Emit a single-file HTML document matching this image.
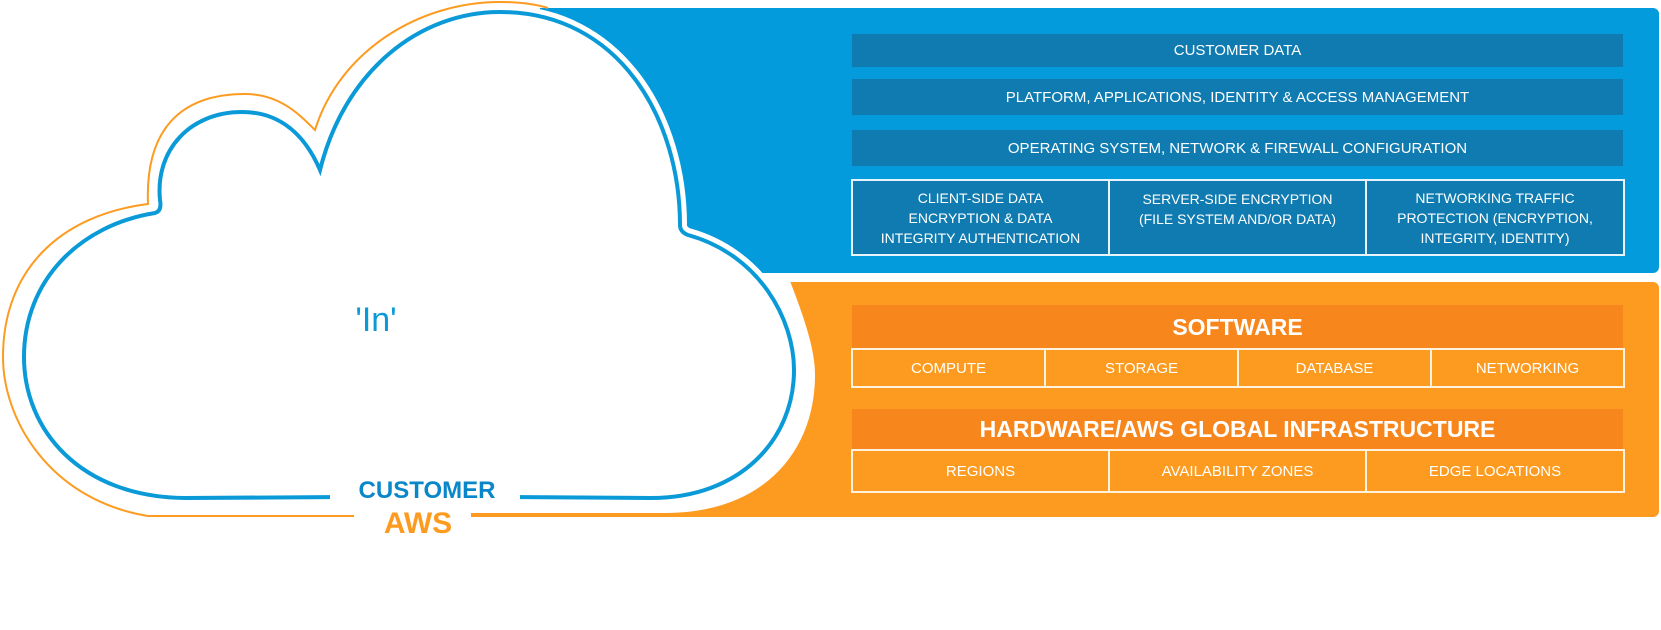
<!DOCTYPE html>
<html><head><meta charset="utf-8"><style>
body{margin:0;width:1661px;height:630px;background:#fff;overflow:hidden;position:relative;font-family:"Liberation Sans",sans-serif}
.a{position:absolute;box-sizing:border-box;color:#fff;display:flex;align-items:center;justify-content:center;text-align:center}
.row{background:#0f7bb0;font-size:15px}
.cell{border:2px solid #e8f4fb;font-size:14px;line-height:20px}
.ocell{border:2px solid #fff3e0;font-size:15px}
.obar{background:#f7861c;font-weight:bold}
</style></head><body>
<div style="position:absolute;left:540px;top:8px;width:1119px;height:265px;background:#039bdc;border-radius:0 6px 6px 0"></div>
<div style="position:absolute;left:471px;top:282px;width:1188px;height:235px;background:#fd9b20;border-radius:0 6px 6px 0"></div>
<svg width="1661" height="630" style="position:absolute;left:0;top:0">
<path d="M790 281 C805 320 815 350 815 375 C815 450 765 513 665 513 L0 513 L0 281 Z" fill="#fff"/>
<path d="M0 0 L540 0 L540 8 L0 8 Z" fill="#fff"/>
<path d="M345 497 L185 498 C80 497 24 430 24 357 C24 280 80 225 155 213 Q162 211 160 200 C155 150 190 112 242 112 C280 112 305 135 320 170 C345 70 420 12 500 12 C620 12 680 120 680 225 Q680 232 688 235 C760 255 794 320 794 370 C794 440 740 498 651 498 L505 497 Z" fill="#fff" stroke="#fff" stroke-width="14"/>
<path d="M345 497 L185 498 C80 497 24 430 24 357 C24 280 80 225 155 213 Q162 211 160 200 C155 150 190 112 242 112 C280 112 305 135 320 170 C345 70 420 12 500 12 C620 12 680 120 680 225 Q680 232 688 235 C760 255 794 320 794 370 C794 440 740 498 651 498 L505 497" fill="none" stroke="#0a9ad8" stroke-width="4"/>
<rect x="330" y="485" width="190" height="20" fill="#fff"/>
<path d="M354 516 L148 516 C50 500 3 420 3 357 C3 270 60 215 148 204 C145 130 180 94 245 94 C280 94 300 115 315 130 C340 50 420 2 500 2 C520 2 535 4 548 8" fill="none" stroke="#fd9b20" stroke-width="2"/>
<text x="376" y="331" font-size="34" fill="#0a9ad8" text-anchor="middle" font-family="Liberation Sans">'In'</text>
<text x="427" y="498" font-size="24" fill="#0a87c8" text-anchor="middle" font-weight="bold" font-family="Liberation Sans">CUSTOMER</text>
<text x="418" y="533" font-size="30" fill="#fd9b20" text-anchor="middle" font-weight="bold" font-family="Liberation Sans">AWS</text>
</svg>
<div class="a row" style="left:852px;top:34px;width:771px;height:33px">CUSTOMER DATA</div>
<div class="a row" style="left:852px;top:79px;width:771px;height:36px">PLATFORM, APPLICATIONS, IDENTITY &amp; ACCESS MANAGEMENT</div>
<div class="a row" style="left:852px;top:130px;width:771px;height:36px">OPERATING SYSTEM, NETWORK &amp; FIREWALL CONFIGURATION</div>
<div class="a row cell" style="left:851px;top:179px;width:259px;height:77px">CLIENT-SIDE DATA<br>ENCRYPTION &amp; DATA<br>INTEGRITY AUTHENTICATION</div>
<div class="a row cell" style="left:1108px;top:179px;width:259px;height:77px;align-items:flex-start;padding-top:8px">SERVER-SIDE ENCRYPTION<br>(FILE SYSTEM AND/OR DATA)</div>
<div class="a row cell" style="left:1365px;top:179px;width:260px;height:77px">NETWORKING TRAFFIC<br>PROTECTION (ENCRYPTION,<br>INTEGRITY, IDENTITY)</div>
<div class="a obar" style="left:852px;top:305px;width:771px;height:45px;font-size:23px">SOFTWARE</div>
<div class="a ocell" style="left:851px;top:348px;width:195px;height:40px">COMPUTE</div>
<div class="a ocell" style="left:1044px;top:348px;width:195px;height:40px">STORAGE</div>
<div class="a ocell" style="left:1237px;top:348px;width:195px;height:40px">DATABASE</div>
<div class="a ocell" style="left:1430px;top:348px;width:195px;height:40px">NETWORKING</div>
<div class="a obar" style="left:852px;top:409px;width:771px;height:40px;font-size:23px">HARDWARE/AWS GLOBAL INFRASTRUCTURE</div>
<div class="a ocell" style="left:851px;top:449px;width:259px;height:44px">REGIONS</div>
<div class="a ocell" style="left:1108px;top:449px;width:259px;height:44px">AVAILABILITY ZONES</div>
<div class="a ocell" style="left:1365px;top:449px;width:260px;height:44px">EDGE LOCATIONS</div>
</body></html>
